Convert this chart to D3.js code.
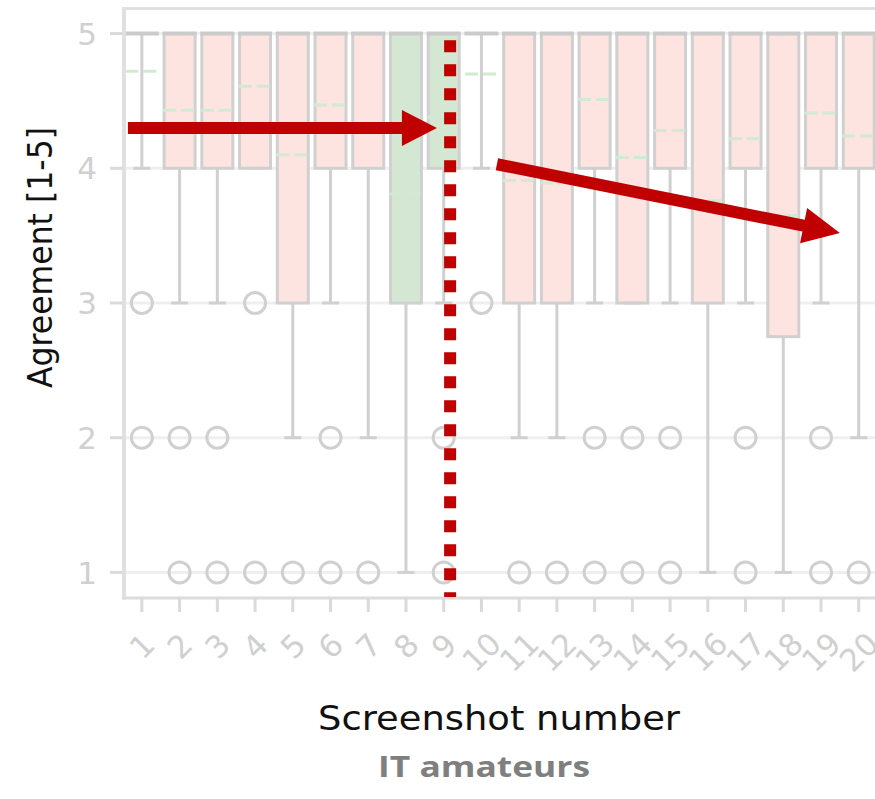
<!DOCTYPE html>
<html>
<head>
<meta charset="utf-8">
<script src="https://cdn.jsdelivr.net/npm/d3@7/dist/d3.min.js"></script>
<style>
  html, body { margin: 0; padding: 0; background: #ffffff; }
  svg { display: block; }
</style>
</head>
<body>
<svg id="chart" width="875" height="799"></svg>
<script>
// Screenshot ratings (1-5 agreement), one box per screenshot
const categories = ["1","2","3","4","5","6","7","8","9","10","11","12","13","14","15","16","17","18","19","20"];
const q1Values      = [5, 4, 4, 4, 3, 4, 4, 3, 4, 5, 3, 3, 4, 3, 4, 3, 4, 2.75, 4, 4];
const q3Values      = [5, 5, 5, 5, 5, 5, 5, 5, 5, 5, 5, 5, 5, 5, 5, 5, 5, 5, 5, 5];
const medianValues  = [5, 5, 5, 5, 5, 5, 5, 5, 5, 5, 5, 5, 5, 5, 5, 5, 5, 5, 5, 5];
const whiskerLow    = [4, 3, 3, 4, 2, 3, 2, 1, 3, 4, 2, 2, 3, 3, 3, 1, 3, 1, 3, 2];
const whiskerHigh   = [5, 5, 5, 5, 5, 5, 5, 5, 5, 5, 5, 5, 5, 5, 5, 5, 5, 5, 5, 5];
const meanValues    = [4.72, 4.43, 4.43, 4.61, 4.10, 4.47, 4.30, 3.81, 4.38, 4.70,
                       3.91, 3.89, 4.51, 4.08, 4.28, 3.76, 4.22, 3.65, 4.41, 4.24];
const outlierValues = [[3,2],[2,1],[2,1],[3,1],[1],[2,1],[1],[],[2,1],[3],
                       [1],[1],[2,1],[2,1],[2,1],[],[2,1],[],[2,1],[1]];
const highlighted   = ["8", "9"];
const yTicks        = [1, 2, 3, 4, 5];

const svg = d3.select("#chart");

const plot = { left: 123, right: 877.6, top: 8, bottom: 598 };

const x = d3.scaleBand().domain(categories).range([plot.left, plot.right]).padding(0);
const y = d3.scaleLinear().domain([0.81, 5.19]).range([plot.bottom, plot.top]);
const step = x.step();
const cx = c => x(c) + step / 2;
// fractional band position (0 = left edge of first band)
const bx = p => plot.left + p * step;

const boxW = 31, capW = 17;
const grey = "#d0d0d0";

const boxes = categories.map((c, i) => ({
  c, q1: q1Values[i], q3: q3Values[i], med: medianValues[i],
  lo: whiskerLow[i], hi: whiskerHigh[i], mean: meanValues[i], out: outlierValues[i]
}));

// horizontal grid
svg.append("g").selectAll("line").data(yTicks).join("line")
  .attr("x1", plot.left).attr("x2", 875)
  .attr("y1", d => y(d)).attr("y2", d => y(d))
  .attr("stroke", "#efefef").attr("stroke-width", 3);

const g = svg.append("g");

// whiskers
g.selectAll("line.wlo").data(boxes).join("line").attr("class", "wlo")
  .attr("x1", d => cx(d.c)).attr("x2", d => cx(d.c))
  .attr("y1", d => y(d.q1)).attr("y2", d => y(d.lo))
  .attr("stroke", grey).attr("stroke-width", 3);
g.selectAll("line.whi").data(boxes).join("line").attr("class", "whi")
  .attr("x1", d => cx(d.c)).attr("x2", d => cx(d.c))
  .attr("y1", d => y(d.q3)).attr("y2", d => y(d.hi))
  .attr("stroke", grey).attr("stroke-width", 3);

// boxes
g.selectAll("rect.box").data(boxes).join("rect").attr("class", "box")
  .attr("x", d => cx(d.c) - boxW / 2).attr("width", boxW)
  .attr("y", d => y(d.q3)).attr("height", d => y(d.q1) - y(d.q3))
  .attr("fill", d => highlighted.includes(d.c) ? "#d3e7d3" : "#fde4e0")
  .attr("stroke", grey).attr("stroke-width", 3);

// caps
["lo", "hi"].forEach(k => {
  g.selectAll("line.cap" + k).data(boxes).join("line").attr("class", "cap" + k)
    .attr("x1", d => cx(d.c) - capW / 2).attr("x2", d => cx(d.c) + capW / 2)
    .attr("y1", d => y(d[k])).attr("y2", d => y(d[k]))
    .attr("stroke", grey).attr("stroke-width", 3);
});

// medians
g.selectAll("line.med").data(boxes).join("line").attr("class", "med")
  .attr("x1", d => cx(d.c) - boxW / 2 - 1.5).attr("x2", d => cx(d.c) + boxW / 2 + 1.5)
  .attr("y1", d => y(d.med)).attr("y2", d => y(d.med))
  .attr("stroke", "#cbcbcb").attr("stroke-width", 4);

// means (dashed)
g.selectAll("line.mean").data(boxes).join("line").attr("class", "mean")
  .attr("x1", d => cx(d.c) - boxW / 2 - 1).attr("x2", d => cx(d.c) + boxW / 2 + 1)
  .attr("y1", d => y(d.mean)).attr("y2", d => y(d.mean))
  .attr("stroke", "#d2ead2").attr("stroke-width", 3)
  .attr("stroke-dasharray", "13,5");

// outliers
const outPts = boxes.flatMap(d => d.out.map(v => ({ c: d.c, v })));
g.selectAll("circle.out").data(outPts).join("circle").attr("class", "out")
  .attr("cx", d => cx(d.c)).attr("cy", d => y(d.v)).attr("r", 10.5)
  .attr("fill", "none").attr("stroke", grey).attr("stroke-width", 3);

// spines
svg.append("line").attr("x1", plot.left).attr("x2", 875).attr("y1", 8.5).attr("y2", 8.5)
  .attr("stroke", "#e0e0e0").attr("stroke-width", 3);
svg.append("line").attr("x1", 124).attr("x2", 124).attr("y1", 7).attr("y2", plot.bottom + 1.5)
  .attr("stroke", "#e0e0e0").attr("stroke-width", 4);
svg.append("line").attr("x1", 122).attr("x2", 875).attr("y1", plot.bottom).attr("y2", plot.bottom)
  .attr("stroke", "#dcdcdc").attr("stroke-width", 3);

// y ticks and labels
const yAx = svg.append("g");
yAx.selectAll("line").data(yTicks).join("line")
  .attr("x1", 110).attr("x2", 123).attr("y1", d => y(d)).attr("y2", d => y(d))
  .attr("stroke", "#dadada").attr("stroke-width", 3);
yAx.selectAll("text").data(yTicks).join("text")
  .attr("x", 97).attr("y", d => y(d)).attr("dy", "0.36em")
  .attr("text-anchor", "end")
  .attr("font-family", "DejaVu Sans").attr("font-size", 31)
  .attr("fill", "#d0d0d0").text(d => d);

// x ticks and rotated labels
const xAx = svg.append("g");
xAx.selectAll("line").data(categories).join("line")
  .attr("x1", d => cx(d)).attr("x2", d => cx(d))
  .attr("y1", plot.bottom).attr("y2", 612)
  .attr("stroke", "#dadada").attr("stroke-width", 3);
const fsX = 31;
xAx.selectAll("g.lab").data(categories).join("g").attr("class", "lab")
  .each(function (d) {
    const t = d3.select(this).append("text")
      .attr("text-anchor", "middle").attr("dy", "0.36em")
      .attr("transform", "rotate(-45)")
      .attr("font-family", "DejaVu Sans").attr("font-size", fsX)
      .attr("fill", "#d0d0d0").text(d);
    const w = t.node().getComputedTextLength() * 0.85;
    const h = (w + 0.73 * fsX) / Math.SQRT2;
    d3.select(this).attr("transform", `translate(${cx(d)},${632 + h / 2})`);
  });

// axis titles
svg.append("text")
  .attr("x", 499).attr("y", 730).attr("text-anchor", "middle")
  .attr("font-family", "DejaVu Sans").attr("font-size", 34)
  .attr("textLength", 362).attr("lengthAdjust", "spacingAndGlyphs")
  .attr("fill", "#111").text("Screenshot number");
svg.append("text")
  .attr("transform", "translate(52,257.5) rotate(-90)").attr("text-anchor", "middle")
  .attr("font-family", "DejaVu Sans").attr("font-size", 34)
  .attr("textLength", 261).attr("lengthAdjust", "spacingAndGlyphs")
  .attr("fill", "#111").text("Agreement [1-5]");
svg.append("text")
  .attr("x", 484).attr("y", 777).attr("text-anchor", "middle")
  .attr("font-family", "Open Sans").attr("font-weight", 700).attr("font-size", 28)
  .attr("textLength", 212).attr("lengthAdjust", "spacingAndGlyphs")
  .attr("fill", "#7f7f7f").text("IT amateurs");

// annotations: dotted divider and two arrows
const red = "#c00000";
svg.append("line")
  .attr("x1", bx(8.67)).attr("x2", bx(8.67))
  .attr("y1", y(4.95)).attr("y2", 597)
  .attr("stroke", red).attr("stroke-width", 12).attr("stroke-dasharray", "12,12");

function arrow(x0, y0, x1, y1, shaftW, headL, headW) {
  const dx = x1 - x0, dy = y1 - y0, L = Math.hypot(dx, dy);
  const ux = dx / L, uy = dy / L, nx = -uy, ny = ux;
  const bxp = x1 - ux * headL, byp = y1 - uy * headL;
  const s = shaftW / 2;
  const pts = [
    [x0 + nx * s, y0 + ny * s], [bxp + nx * s, byp + ny * s], [bxp + nx * headW, byp + ny * headW],
    [x1, y1],
    [bxp - nx * headW, byp - ny * headW], [bxp - nx * s, byp - ny * s], [x0 - nx * s, y0 - ny * s]
  ];
  svg.append("path").attr("d", d3.line()(pts) + "Z").attr("fill", red);
}
arrow(bx(0.13), y(4.30), bx(8.32), y(4.30), 12, 35, 18);
arrow(bx(9.91), y(4.03), bx(19.0), y(3.52), 12, 37, 18);
</script>
</body>
</html>
